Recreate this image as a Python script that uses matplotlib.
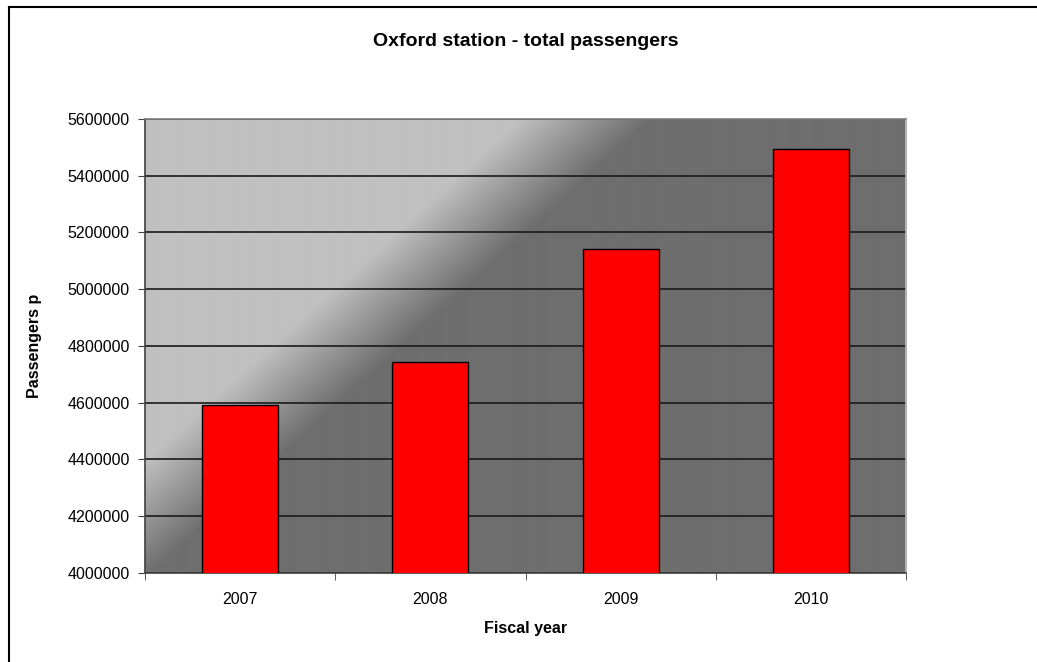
import numpy as np
import matplotlib
matplotlib.use("Agg")
import matplotlib.pyplot as plt
from matplotlib.lines import Line2D

years = ["2007", "2008", "2009", "2010"]
passengers = [4592000, 4743000, 5142000, 5494000]
y_ticks = list(range(4000000, 5600001, 200000))

plt.rcParams['font.family'] = ['Liberation Sans', 'DejaVu Sans']

fig = plt.figure(figsize=(10.37, 6.62), dpi=100)
ax = fig.add_axes([145/1037, 1 - 573/662, 761/1037, 454/662])

# diagonal grey gradient behind the bars (light top-left, dark bottom-right)
h, w = 454, 761
jj, ii = np.mgrid[0:h, 0:w]
d = (ii + 1.1 * jj - 440) / 130.0 + 0.5
t = np.clip(d, 0, 1)
light, dark = 192 / 255, 110 / 255
img = light + (dark - light) * t
ax.imshow(img, cmap="gray", vmin=0, vmax=1, extent=[-0.5, 3.5, 4000000, 5600000],
          aspect="auto", zorder=0, interpolation="bilinear")

x = np.arange(len(years))
ax.bar(x, passengers, width=0.4, color="#ff0000", edgecolor="black", linewidth=1, zorder=3)

ax.set_xlim(-0.5, 3.5)
ax.set_ylim(4000000, 5600000)
ax.set_yticks(y_ticks)
ax.set_yticklabels([str(v) for v in y_ticks], fontsize=11.5)
ax.yaxis.grid(True, color="#1a1a1a", linewidth=1.2)
for gl in ax.get_ygridlines():
    gl.set_zorder(2)

ax.set_xticks(x)
ax.set_xticklabels(years, fontsize=11.5)
ax.set_xticks(np.arange(-0.5, 4, 1), minor=True)
ax.tick_params(axis="x", which="major", length=0, pad=14)
ax.tick_params(axis="x", which="minor", length=5, direction="out", color="#404040")
ax.tick_params(axis="y", length=5, direction="out", pad=6, color="#404040")

ax.spines["left"].set_color("#404040")
ax.spines["bottom"].set_color("#404040")
ax.spines["top"].set_color("#808080")
ax.spines["right"].set_color("#c0c0c0")
for s in ax.spines.values():
    s.set_linewidth(1.2)

ax.set_xlabel("Fiscal year", fontsize=11.5, fontweight="bold", labelpad=10)
ax.set_ylabel("Passengers p", fontsize=11.5, fontweight="bold", labelpad=18)
fig.text(526 / 1037, 1 - 41 / 662, "Oxford station - total passengers",
         ha="center", va="center", fontsize=14, fontweight="bold")

# chart frame (only left and top edges show in the picture)
fig.add_artist(Line2D([8.5 / 1037, 8.5 / 1037], [0, 1 - 6.5 / 662], color="black", lw=1.5))
fig.add_artist(Line2D([8.5 / 1037, 1], [1 - 6.5 / 662, 1 - 6.5 / 662], color="black", lw=1.5))

fig.savefig("out.png", dpi=100)
